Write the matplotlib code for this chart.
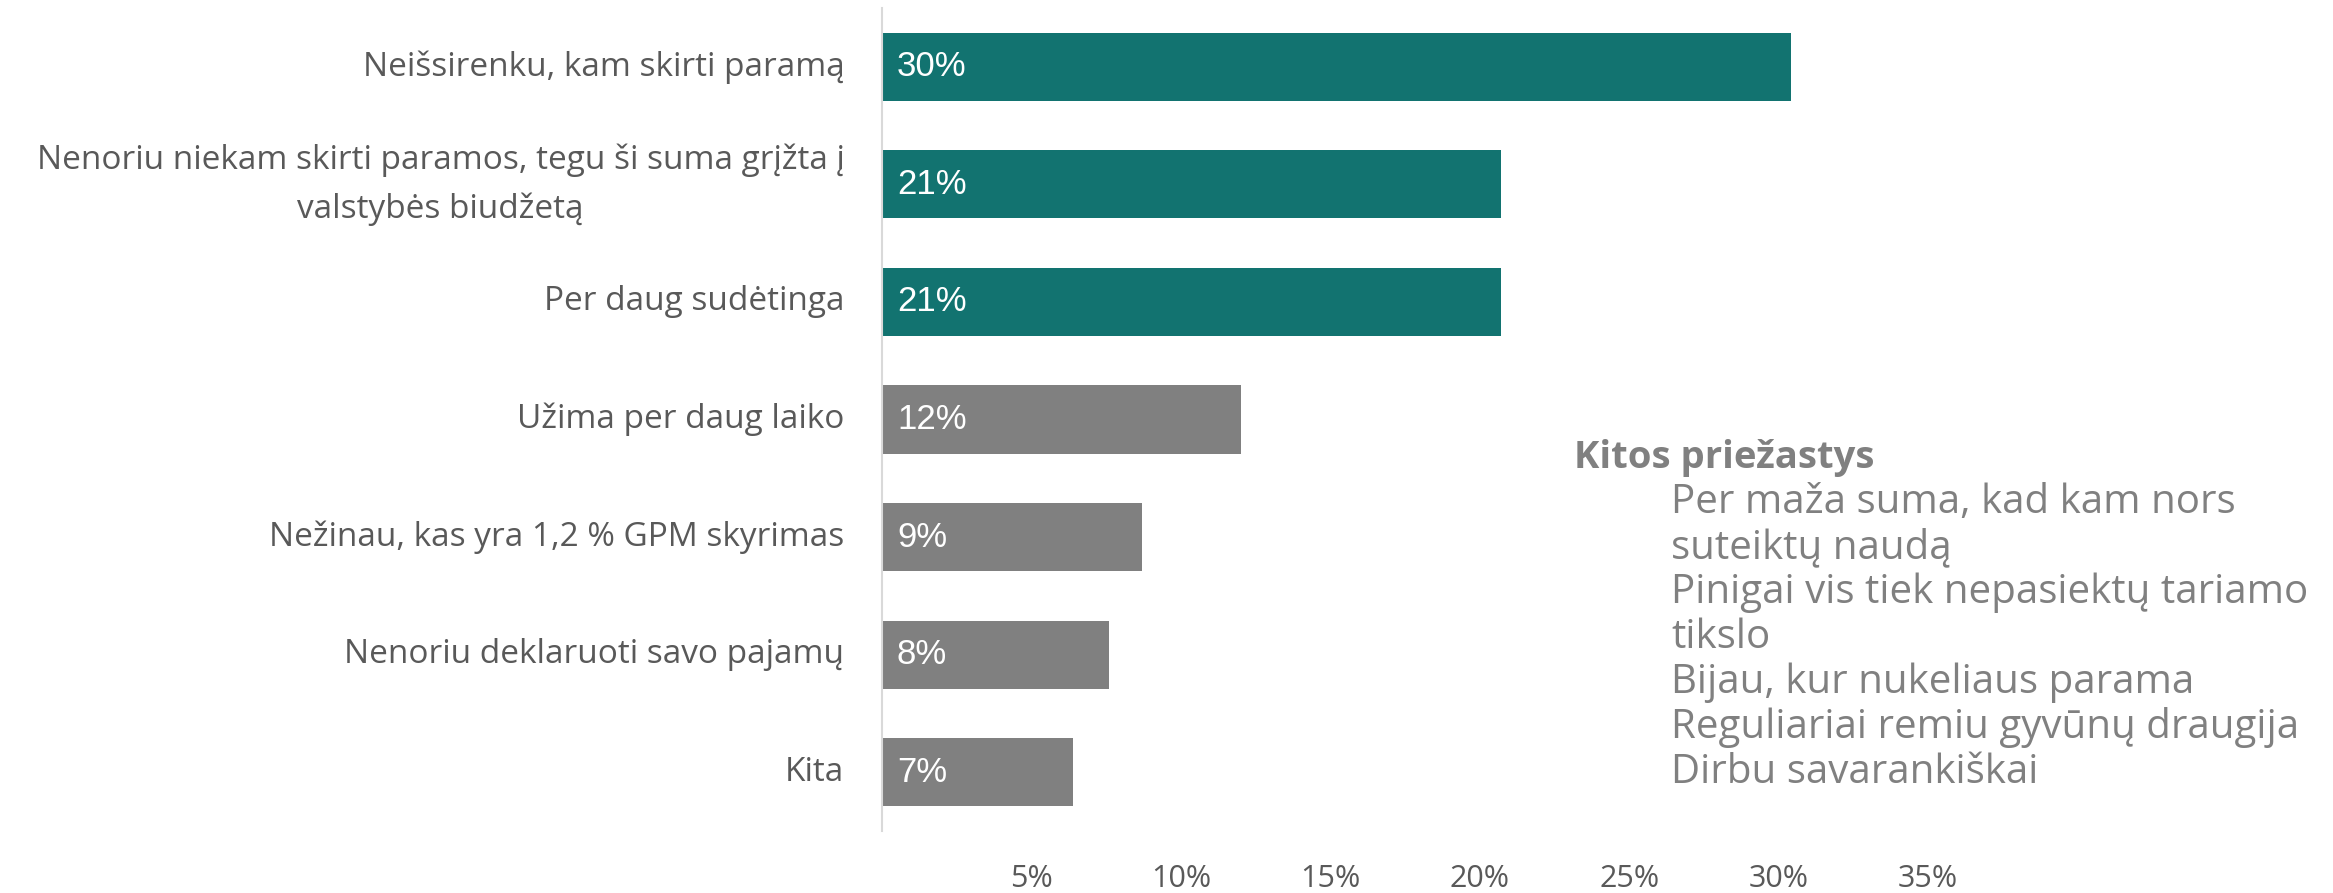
import matplotlib
matplotlib.use("Agg")
import matplotlib.pyplot as plt
from matplotlib import font_manager as fm

categories = [
    "Neišsirenku, kam skirti paramą",
    "Nenoriu niekam skirti paramos, tegu ši suma grįžta į\nvalstybės biudžetą",
    "Per daug sudėtinga",
    "Užima per daug laiko",
    "Nežinau, kas yra 1,2 % GPM skyrimas",
    "Nenoriu deklaruoti savo pajamų",
    "Kita",
]
values = [30.4, 20.7, 20.7, 12.0, 8.7, 7.6, 6.4]
value_labels = ["30%", "21%", "21%", "12%", "9%", "8%", "7%"]
highlight = [True, True, True, False, False, False, False]
xticks = [5, 10, 15, 20, 25, 30, 35]
xtick_labels = ["5%", "10%", "15%", "20%", "25%", "30%", "35%"]
side_title = "Kitos priežastys"
side_items = [
    "Per maža suma, kad kam nors",
    "suteiktų naudą",
    "Pinigai vis tiek nepasiektų tariamo",
    "tikslo",
    "Bijau, kur nukeliaus parama",
    "Reguliariai remiu gyvūnų draugija",
    "Dirbu savarankiškai",
]

installed = {f.name for f in fm.fontManager.ttflist}
main_font = "Open Sans" if "Open Sans" in installed else "DejaVu Sans"

TEAL = "#127370"
GRAY = "#808080"
TXT = "#595959"

fig = plt.figure(figsize=(23.33, 8.93), dpi=100)
ax = fig.add_axes([882 / 2333, 62 / 893, (1928 - 882) / 2333, (885 - 62) / 893])

ypos = list(range(len(categories)))
colors = [TEAL if h else GRAY for h in highlight]
ax.barh(ypos, values, height=0.58, color=colors)
ax.set_ylim(len(categories) - 0.5, -0.5)
ax.set_xlim(0, 35)

for i, lab in enumerate(value_labels):
    ax.annotate(lab, xy=(0, i), xytext=(15, 0), textcoords="offset pixels",
                ha="left", va="center", color="white", fontsize=25,
                family="Liberation Sans")

ax.set_yticks(ypos)
ax.set_yticklabels(categories, fontsize=24, color=TXT, family=main_font,
                   multialignment="center", linespacing=1.6)
for t in ax.get_yticklabels():
    t.set_verticalalignment("center")
ax.set_xticks(xticks)
ax.set_xticklabels(xtick_labels, fontsize=22, color=TXT, family=main_font)
ax.tick_params(axis="both", length=0)
ax.tick_params(axis="y", pad=27)
ax.tick_params(axis="x", pad=24)

for s in ["top", "right", "bottom"]:
    ax.spines[s].set_visible(False)
ax.spines["left"].set_color("#d9d9d9")
ax.spines["left"].set_linewidth(1.5)

fig.text(1574 / 2333, 1 - 458 / 893, side_title, fontsize=27.5, fontweight="bold",
         color=GRAY, family=main_font, ha="left", va="center")
for k, item in enumerate(side_items):
    y = 503 + 45 * k
    fig.text(1671 / 2333, 1 - y / 893, item, fontsize=29, color=GRAY,
             family=main_font, ha="left", va="center")

fig.savefig("out.png", dpi=100, facecolor="white")
